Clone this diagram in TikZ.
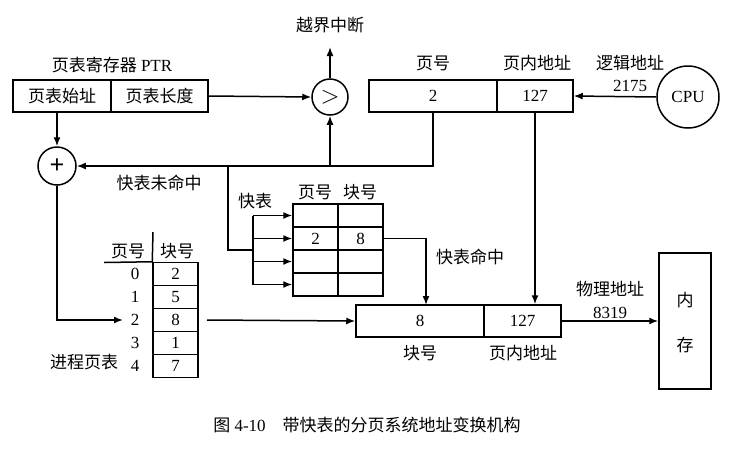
\documentclass[tikz,border=0pt]{standalone}
\usepackage{fontspec}
\setmainfont{Liberation Serif}
\newfontfamily\cjk{Noto Sans CJK SC}
\usetikzlibrary{arrows.meta,calc}
\tikzset{
  base/.style={line width=1.5pt},
  cell/.style={draw,base,inner sep=0pt,anchor=center},
  arr/.style={base,-{Latex[length=9pt,width=7pt]}},
  ln/.style={base},
  lbl/.style={inner sep=0pt,anchor=center},
  circ/.style={draw,base,circle,inner sep=0pt}
}
\begin{document}
\begin{tikzpicture}[x=1pt,y=-1pt,font=\fontsize{17}{20}\selectfont]
\useasboundingbox (0,0) rectangle (731,448);
% PTR
\node[cell,minimum width=98pt,minimum height=32pt] (ps) at (62,96) {\cjk 页表始址};
\node[cell,minimum width=97pt,minimum height=32pt] (pl) at (159.5,96) {\cjk 页表长度};
\node[lbl] (ptrlbl) at (112,65) {{\cjk 页表寄存器} PTR};
% comparator and adder
\node[circ,minimum size=36pt] (gt) at (330,97) {\fontsize{26}{26}\selectfont$>$};
\node[circ,minimum size=38pt] (plus) at (57,166) {\fontsize{26}{26}\selectfont\textbf{+}};
\node[lbl] (intr) at (330,25) {\cjk 越界中断};
\coordinate (intrp) at (330,47);
% logical address
\node[cell,minimum width=128pt,minimum height=32pt] (lp) at (433,96) {2};
\node[cell,minimum width=76pt,minimum height=32pt] (lo) at (535,96) {127};
\node[lbl] (lpl) at (433,63) {\cjk 页号};
\node[lbl] (lol) at (537,63) {\cjk 页内地址};
% CPU
\node[circ,minimum size=62pt] (cpu) at (688,97) {CPU};
\node[lbl] (la) at (630,63) {\cjk 逻辑地址};
\node[lbl] (la2) at (630,86) {2175};
% TLB
\foreach \r/\y in {1/215.5,2/238.5,3/261.5,4/284.5}{
  \node[cell,minimum width=45pt,minimum height=23pt] (t\r1) at (315.5,\y) {};
  \node[cell,minimum width=45pt,minimum height=23pt] (t\r2) at (360.5,\y) {};
}
\node[lbl] (t2v1) at (t21) {2};
\node[lbl] (t2v2) at (t22) {8};
\node[lbl] (th1) at (315,192) {\cjk 页号};
\node[lbl] (th2) at (360,192) {\cjk 块号};
\node[lbl] (tl) at (255,201) {\cjk 快表};
\node[lbl] (miss) at (159,183) {\cjk 快表未命中};
\node[lbl] (hitl) at (470,257) {\cjk 快表命中};
% physical address
\node[cell,minimum width=128pt,minimum height=32pt] (pb) at (420,321) {8};
\node[cell,minimum width=77pt,minimum height=32pt] (po) at (522.5,321) {127};
\node[lbl] (pbl) at (420,353) {\cjk 块号};
\node[lbl] (pol) at (523,353) {\cjk 页内地址};
\node[lbl] (pa) at (610,289) {\cjk 物理地址};
\node[lbl] (pa2) at (610,313) {8319};
% memory
\node[cell,minimum width=52pt,minimum height=136pt] (mem) at (685,321) {};
\node[lbl] (m1) at (685,300) {\cjk 内};
\node[lbl] (m2) at (685,345) {\cjk 存};
% page table
\foreach \r/\y/\v in {0/274/2,1/297/5,2/320/8,3/343/1,4/366/7}{
  \node[cell,minimum width=45pt,minimum height=23pt] (pt\r) at (175.5,\y) {\v};
  \node[lbl] (pn\r) at (135,\y) {\r};
}
\node[lbl] (pth1) at (128,251) {\cjk 页号};
\node[lbl] (pth2) at (177,251) {\cjk 块号};
\node[lbl] (ptl) at (84,362) {\cjk 进程页表};
\coordinate (hl) at (104,262.5);
\coordinate (vl) at (153,232);
\draw[ln] (hl) -- (pt0.north west);
\draw[ln] (vl) -- (pt0.north west);
% connectors
\draw[arr] (pl.east) -- (gt.west);
\draw[arr] (gt.north) -- (intrp);
\draw[arr] (plus.north |- ps.south) -- (plus.north);
\coordinate (j1) at (433,166);
\coordinate (j2) at (330,166);
\coordinate (j3) at (228,166);
\draw[arr] (lp.south) -- (j1) -- (plus.east);
\draw[arr] (j2) -- (gt.south);
\coordinate (busin) at (253,250);
\draw[ln] (j3) |- (busin);
\coordinate (bt) at (253,215.5);
\coordinate (bb) at (253,284.5);
\draw[ln] (bt) -- (bb);
\foreach \r in {1,2,3,4}{ \draw[arr] (t\r1.west -| bt) -- (t\r1.west); }
\coordinate (hit) at (426,305);
\draw[arr] (t22.east) -| (hit);
\draw[arr] (lo.south) -- (lo.south |- po.north);
\draw[arr] (cpu.west) -- (lo.east);
\coordinate (p2) at (123,320);
\draw[arr] (plus.south) |- (p2);
\coordinate (pts) at (207,320);
\draw[arr] (pts) -- (pb.west);
\draw[arr] (po.east) -- (mem.west);
% caption
\node[lbl] (cap) at (367,425) {{\cjk 图} 4-10\quad{\cjk 带快表的分页系统地址变换机构}};
\end{tikzpicture}
\end{document}
